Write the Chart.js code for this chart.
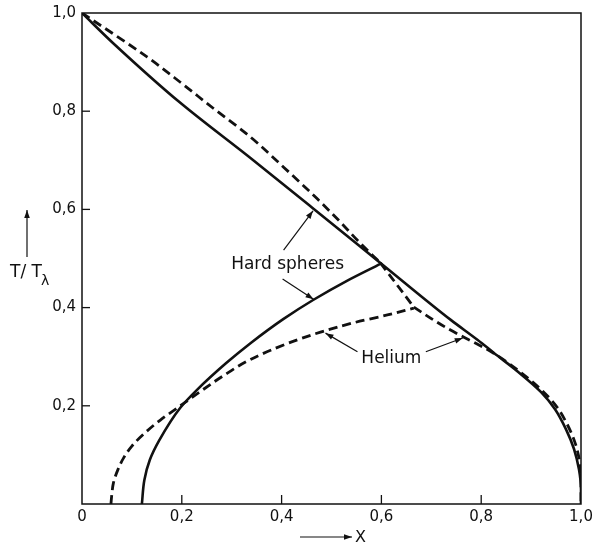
<!DOCTYPE html>
<html>
<head>
<meta charset="utf-8">
<script src="https://cdn.jsdelivr.net/npm/chart.js@4/dist/chart.umd.min.js"></script>
<style>
  html, body { margin: 0; padding: 0; background: #fff; }
  #wrap { width: 592px; height: 546px; }
</style>
</head>
<body>
<div id="wrap"><canvas id="c" width="592" height="546"></canvas></div>
<script>
// ---- Data ----
// Hard spheres: upper curve and lower coexistence curve
const hsUpperX = [0, 0.062, 0.197, 0.337, 0.462, 0.598, 0.739, 0.793, 0.825, 0.873, 0.920, 0.948, 0.970, 0.986, 0.996, 1.0, 1.0];
const hsUpperY = [1.0, 0.939, 0.817, 0.705, 0.603, 0.491, 0.375, 0.334, 0.308, 0.270, 0.228, 0.193, 0.152, 0.112, 0.070, 0.030, 0.0];
const hsLowerX = [0.120, 0.125, 0.136, 0.155, 0.197, 0.230, 0.289, 0.337, 0.404, 0.464, 0.530, 0.598];
const hsLowerY = [0.0, 0.049, 0.090, 0.130, 0.196, 0.232, 0.287, 0.327, 0.377, 0.416, 0.454, 0.489];
// Helium: upper branch, steep lambda segment, lower-right branch, lower coexistence branch
const heUpperX = [0, 0.131, 0.197, 0.263, 0.337, 0.404, 0.472, 0.518, 0.552, 0.598];
const heUpperY = [1.0, 0.910, 0.859, 0.806, 0.748, 0.686, 0.621, 0.574, 0.537, 0.491];
const heLambdaX = [0.598, 0.665];
const heLambdaY = [0.491, 0.401];
const heRightX = [0.665, 0.720, 0.759, 0.790, 0.825, 0.873, 0.920, 0.950, 0.972, 0.988, 0.997, 1.0, 1.0];
const heRightY = [0.401, 0.365, 0.343, 0.327, 0.307, 0.273, 0.233, 0.200, 0.163, 0.125, 0.088, 0.050, 0.0];
const heLowerX = [0.058, 0.060, 0.063, 0.072, 0.084, 0.100, 0.122, 0.157, 0.197, 0.237, 0.283, 0.337, 0.412, 0.478, 0.544, 0.612, 0.665];
const heLowerY = [0.0, 0.022, 0.043, 0.070, 0.095, 0.118, 0.141, 0.171, 0.200, 0.229, 0.261, 0.294, 0.327, 0.350, 0.369, 0.385, 0.399];

const xTickLabels = ['0', '0,2', '0,4', '0,6', '0,8', '1,0'];
const yTickLabels = ['', '0,2', '0,4', '0,6', '0,8', '1,0'];

// Annotations (data coordinates)
const hardLabel = { text: 'Hard spheres', x: 0.412, y: 0.487 };
const hardArrows = [
  { from: [0.404, 0.517], to: [0.463, 0.597] },
  { from: [0.402, 0.458], to: [0.464, 0.417] }
];
const heliumLabel = { text: 'Helium', x: 0.620, y: 0.297 };
const heliumArrows = [
  { from: [0.552, 0.310], to: [0.488, 0.348] },
  { from: [0.689, 0.310], to: [0.763, 0.338] }
];

function pts(xs, ys) { return xs.map((x, i) => ({ x: x, y: ys[i] })); }

const FONT = '"DejaVu Sans", sans-serif';
Chart.defaults.font.family = FONT;
Chart.defaults.color = '#111';

// curves are strictly monotone in y, so interpolate monotonically along y
function solid(data) {
  return { data: data, showLine: true, borderColor: '#111', borderWidth: 2.6,
           pointRadius: 0, indexAxis: 'y', cubicInterpolationMode: 'monotone', fill: false };
}
function dashed(data, straight) {
  const d = { data: data, showLine: true, borderColor: '#111', borderWidth: 2.8,
           borderDash: [9, 5], pointRadius: 0, indexAxis: 'y', fill: false };
  if (straight) d.tension = 0; else d.cubicInterpolationMode = 'monotone';
  return d;
}

function arrow(ctx, x1, y1, x2, y2) {
  ctx.beginPath();
  ctx.moveTo(x1, y1);
  ctx.lineTo(x2, y2);
  ctx.stroke();
  const a = Math.atan2(y2 - y1, x2 - x1);
  const L = 8, W = 2.8;
  ctx.beginPath();
  ctx.moveTo(x2, y2);
  ctx.lineTo(x2 - L * Math.cos(a) + W * Math.sin(a), y2 - L * Math.sin(a) - W * Math.cos(a));
  ctx.lineTo(x2 - L * Math.cos(a) - W * Math.sin(a), y2 - L * Math.sin(a) + W * Math.cos(a));
  ctx.closePath();
  ctx.fill();
}

const decor = {
  id: 'decor',
  afterDraw(chart) {
    const ctx = chart.ctx, ca = chart.chartArea;
    const xs = chart.scales.x, ys = chart.scales.y;
    ctx.save();
    ctx.strokeStyle = '#111';
    ctx.fillStyle = '#111';
    // frame
    ctx.lineWidth = 1.5;
    ctx.strokeRect(ca.left, ca.top, ca.right - ca.left, ca.bottom - ca.top);
    // inward tick marks
    ctx.lineWidth = 1.3;
    xs.ticks.forEach(t => {
      if (t.value <= 0 || t.value >= 1) return;
      const px = xs.getPixelForValue(t.value);
      ctx.beginPath(); ctx.moveTo(px, ca.bottom); ctx.lineTo(px, ca.bottom - 9); ctx.stroke();
    });
    ys.ticks.forEach(t => {
      if (t.value <= 0 || t.value >= 1) return;
      const py = ys.getPixelForValue(t.value);
      ctx.beginPath(); ctx.moveTo(ca.left, py); ctx.lineTo(ca.left + 8, py); ctx.stroke();
    });
    // annotations
    ctx.font = '17px ' + FONT;
    ctx.textAlign = 'center';
    ctx.textBaseline = 'middle';
    ctx.fillText(hardLabel.text, xs.getPixelForValue(hardLabel.x), ys.getPixelForValue(hardLabel.y));
    ctx.fillText(heliumLabel.text, xs.getPixelForValue(heliumLabel.x), ys.getPixelForValue(heliumLabel.y));
    ctx.lineWidth = 1.2;
    hardArrows.concat(heliumArrows).forEach(a => {
      arrow(ctx, xs.getPixelForValue(a.from[0]), ys.getPixelForValue(a.from[1]),
                 xs.getPixelForValue(a.to[0]), ys.getPixelForValue(a.to[1]));
    });
    // y-axis title: arrow + T/Tλ
    ctx.lineWidth = 1.2;
    arrow(ctx, 27, 257, 27, 210);
    ctx.textAlign = 'left';
    ctx.textBaseline = 'alphabetic';
    ctx.font = '17px ' + FONT;
    ctx.fillText('T/ T', 10, 277);
    ctx.font = '14px ' + FONT;
    ctx.fillText('λ', 41, 285);
    // x-axis title: arrow + X
    ctx.lineWidth = 1.2;
    arrow(ctx, 300, 537, 352, 537);
    ctx.font = '16px ' + FONT;
    ctx.textBaseline = 'middle';
    ctx.fillText('X', 355, 538);
    ctx.restore();
  }
};

new Chart(document.getElementById('c'), {
  type: 'scatter',
  data: {
    datasets: [
      solid(pts(hsUpperX, hsUpperY)),
      solid(pts(hsLowerX, hsLowerY)),
      dashed(pts(heUpperX, heUpperY)),
      dashed(pts(heLambdaX, heLambdaY), true),
      dashed(pts(heRightX, heRightY)),
      dashed(pts(heLowerX, heLowerY))
    ]
  },
  options: {
    responsive: false,
    animation: false,
    events: [],
    layout: { padding: { left: 0, top: 13, right: 11, bottom: 0 } },
    plugins: { legend: { display: false }, tooltip: { enabled: false } },
    scales: {
      x: {
        type: 'linear', min: 0, max: 1,
        grid: { display: false, drawTicks: false },
        border: { display: false },
        ticks: {
          stepSize: 0.2, autoSkip: false, maxRotation: 0, padding: 4,
          font: { size: 15 }, color: '#111',
          callback: (v, i) => xTickLabels[i]
        },
        afterFit: s => { s.height = 42; s.paddingLeft = 0; s.paddingRight = 0; }
      },
      y: {
        type: 'linear', min: 0, max: 1,
        grid: { display: false, drawTicks: false },
        border: { display: false },
        ticks: {
          stepSize: 0.2, autoSkip: false, padding: 6,
          font: { size: 15 }, color: '#111',
          callback: (v, i) => yTickLabels[i]
        },
        afterFit: s => { s.width = 82; s.paddingTop = 0; s.paddingBottom = 0; }
      }
    }
  },
  plugins: [decor]
});
</script>
</body>
</html>
